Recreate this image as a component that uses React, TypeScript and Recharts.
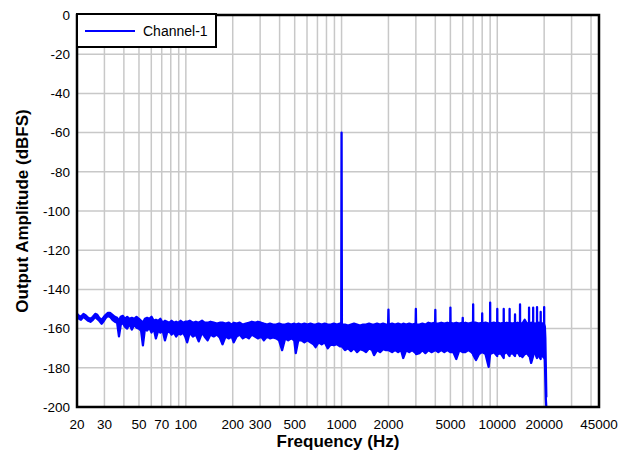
import React from 'react';
import { ComposedChart, Area, XAxis, YAxis, CartesianGrid, Legend, ReferenceArea, Label } from 'recharts';

const FONT = '"Liberation Sans", Arial, Helvetica, sans-serif';
const BLUE = '#0000ff';

// vertical grid lines (log decades) and the ones that carry a label
const gridTicks = [
  20, 30, 40, 50, 60, 70, 80, 90,
  100, 200, 300, 400, 500, 600, 700, 800, 900,
  1000, 2000, 3000, 4000, 5000, 6000, 7000, 8000, 9000,
  10000, 20000, 30000, 40000, 45000,
];
const labelTicks = [20, 30, 50, 70, 100, 200, 300, 500, 1000, 2000, 5000, 10000, 20000, 45000];
const yTicks = [-200, -180, -160, -140, -120, -100, -80, -60, -40, -20, 0];

// [frequency Hz, band low dBFS, band high dBFS]
const lowBand = [
  [20, -154, -152.5], [20.6, -155, -153.5], [21.2, -155.5, -154], [22, -154, -152.5],
  [22.8, -155, -153.3], [23.6, -156, -154.5], [24.4, -156.5, -155], [25.3, -155.5, -154],
  [26.2, -154, -152.5], [27, -155, -153], [27.8, -156, -154.5], [28.8, -157.5, -155.5],
  [29.8, -156, -154], [30.6, -154.5, -153], [31.6, -153.5, -152], [32.6, -154, -152],
  [33.8, -155.5, -153], [35, -156.5, -154], [36.2, -157, -154.5], [37.2, -164, -156],
  [38.2, -158, -154], [39.4, -157, -153.5], [40.6, -159, -155], [42, -160, -154],
  [43.4, -157.5, -155], [45, -160.5, -154.5], [46.6, -158, -155], [48.2, -159.5, -154],
  [50, -160, -155], [51.6, -161, -156], [53, -168.5, -157], [54.6, -160, -155],
  [56.4, -161, -154.5], [58.2, -159.5, -155], [60.2, -162, -154], [62.2, -160, -156],
  [64.2, -165, -155.5], [66.4, -161, -156], [68.6, -162, -155], [71, -161, -157],
  [73.4, -166, -156], [75.8, -162, -156.5], [78.4, -161.5, -157], [81, -163, -156],
  [83.8, -162, -157], [86.6, -164, -156.5], [89.6, -162.5, -157], [92.6, -163, -156],
  [95.8, -162, -157], [99, -164, -156.5], [102, -167, -156.5],
];

const midBand = [
  [106, -162, -156], [111, -164, -157], [116, -163, -156.5], [121, -166.5, -157],
  [127, -162, -156], [132, -164, -157], [138, -166, -157], [144, -163, -156.5],
  [151, -164, -157], [158, -163, -157.5], [165, -164.5, -157], [172, -168, -157],
  [180, -164, -157.5], [189, -165, -157], [197, -164, -158], [203, -167, -157],
  [212, -164, -157.5], [222, -163, -157], [232, -165, -158], [243, -164, -157.5],
  [254, -165, -157], [265, -163, -156.5], [278, -164, -157], [290, -165, -156.5],
  [304, -164, -157], [317, -166, -157.5], [332, -164, -158], [347, -165, -157.5],
  [363, -164.5, -158], [380, -165, -158], [397, -166, -157.5], [415, -171, -158],
  [434, -165, -158], [454, -166, -157.5], [475, -165, -158], [497, -166, -157.5],
  [508, -172.5, -158], [527, -166, -157.5], [552, -166, -158], [577, -167, -157.5],
  [604, -166, -158], [631, -167, -157.5], [661, -168, -158], [681, -169.5, -158],
  [712, -167, -157.5], [745, -168, -158], [779, -167, -157.5], [815, -170, -158],
  [853, -168, -158], [892, -168.5, -157.5], [933, -168, -158], [976, -169, -157.5],
  [995, -169, -158], [1000, -169, -60], [1005, -169, -158],
];

const highBand = [
  [1052, -171, -158], [1100, -170, -158.5], [1150, -171.5, -158], [1202, -170, -157.5],
  [1257, -172, -158], [1314, -170.5, -158.5], [1374, -171, -158], [1436, -172, -158],
  [1502, -170, -157.5], [1570, -171, -158], [1617, -173.5, -158], [1690, -171, -157.5],
  [1767, -172, -158], [1847, -170.5, -157.5], [1931, -171, -158],
  [1990, -171, -158], [2000, -171, -150.3], [2010, -171, -158],
  [2111, -172, -157.5], [2207, -171, -158], [2307, -172, -157.5], [2412, -171, -158],
  [2488, -175, -157.5], [2601, -171, -158], [2720, -172, -157.5], [2843, -171, -158],
  [2990, -172.5, -157.5], [3000, -172.5, -150], [3010, -173, -158],
  [3160, -172.5, -158], [3304, -171, -157.5], [3454, -172.5, -158], [3611, -171, -157],
  [3775, -172, -157.5],
  [3990, -171, -157], [4000, -171, -150.5], [4010, -171, -157.5],
  [4180, -172, -157.5], [4370, -171, -157], [4569, -172, -157.5], [4777, -171, -157],
  [4990, -172, -157.5], [5000, -172, -149.3], [5010, -172, -157],
  [5220, -172, -157.5], [5457, -175.5, -157], [5705, -171, -157.5],
  [5990, -172, -157], [6000, -172, -154.5], [6010, -172, -157.5],
  [6236, -172, -157], [6520, -171, -157.5], [6816, -172, -157],
  [6990, -173, -157.5], [7000, -173, -147.6], [7010, -173.5, -157],
  [7300, -176, -157], [7632, -173, -157.5],
  [7990, -172, -157], [8000, -172, -152.3], [8010, -172, -157.5],
  [8400, -173, -157], [8800, -179.5, -157.5],
  [8990, -173, -157], [9000, -173, -146.7], [9010, -173, -157.5],
  [9500, -172, -157],
  [9990, -174, -157.5], [10000, -174, -150], [10010, -173, -157],
  [10500, -172.5, -157.5],
  [10990, -175, -157], [11000, -175, -150], [11010, -173, -157.5],
  [11500, -172, -157],
  [11990, -174, -157.5], [12000, -174, -150], [12010, -173, -157],
  [12500, -172.5, -157.5],
  [12990, -174, -157], [13000, -174, -152.8], [13010, -173, -157.5],
  [13500, -172, -157],
  [13990, -174, -157.5], [14000, -174, -147.7], [14010, -173, -157],
  [14500, -174.5, -157.5], [15000, -173, -155.5], [15500, -172.5, -157.5],
  [15990, -174, -157], [16000, -174, -149.3], [16010, -173, -157.5],
  [16500, -177.5, -157],
  [16990, -174, -157.5], [17000, -174, -149.3], [17010, -173, -157],
  [17500, -172.5, -157.5],
  [17990, -175, -157], [18000, -175, -149], [18010, -173, -157.5],
  [18500, -174, -157],
  [18990, -175.5, -157.5], [19000, -175.5, -151.5], [19010, -173, -157],
  [19500, -174, -157.5],
  [19990, -175, -157], [20000, -175, -149], [20010, -174, -157.5],
  [20200, -176, -159], [20350, -185, -165], [20500, -196, -180], [20650, -200, -195],
];

const spectrum = [...lowBand, ...midBand, ...highBand].map(([f, lo, hi]) => ({ f, band: [lo, hi] }));

const ChannelLegend = () => (
  <div
    style={{
      width: 137,
      height: 31,
      border: '2px solid #000',
      background: '#fff',
      display: 'flex',
      alignItems: 'center',
      fontFamily: FONT,
      fontSize: 14,
      color: '#000',
    }}
  >
    <svg width={65} height={10} style={{ display: 'block' }}>
      <line x1={7} y1={5} x2={57} y2={5} stroke={BLUE} strokeWidth={2} />
    </svg>
    <span>Channel-1</span>
  </div>
);

export default function App() {
  return (
    <div style={{ position: 'absolute', left: 0, top: 0, background: '#fff' }}>
      <ComposedChart width={631} height={451} data={spectrum} margin={{ top: 15, right: 32, bottom: 0, left: 0 }}>
        <CartesianGrid stroke="#c8c8c8" strokeWidth={1.5} />
        <XAxis
          dataKey="f"
          type="number"
          scale="log"
          domain={[20, 45000]}
          allowDataOverflow
          ticks={gridTicks}
          interval={0}
          tickFormatter={(v) => (labelTicks.includes(v) ? String(v) : '')}
          tickLine={false}
          axisLine={false}
          tickSize={5}
          tickMargin={7}
          height={44}
          tick={{ fill: '#000', fontSize: 13.5, fontFamily: FONT }}
        >
          <Label
            value="Frequency (Hz)"
            position="center"
            dy={12}
            style={{ fill: '#000', fontSize: 17, fontWeight: 'bold', fontFamily: FONT }}
          />
        </XAxis>
        <YAxis
          type="number"
          domain={[-200, 0]}
          ticks={yTicks}
          interval={0}
          tickLine={false}
          axisLine={false}
          tickSize={5}
          tickMargin={2}
          width={77}
          tick={{ fill: '#000', fontSize: 13.5, fontFamily: FONT }}
        >
          <Label
            value="Output Amplitude (dBFS)"
            angle={-90}
            position="center"
            dx={-16.5}
            style={{ fill: '#000', fontSize: 17, fontWeight: 'bold', fontFamily: FONT, textAnchor: 'middle' }}
          />
        </YAxis>
        <Area
          type="linear"
          dataKey="band"
          name="Channel-1"
          stroke={BLUE}
          strokeWidth={2.3}
          strokeLinejoin="round"
          fill={BLUE}
          fillOpacity={1}
          dot={false}
          activeDot={false}
          isAnimationActive={false}
        />
        <ReferenceArea
          x1={20}
          x2={45000}
          y1={-200}
          y2={0}
          fill="none"
          fillOpacity={0}
          stroke="#000"
          strokeWidth={2.5}
          ifOverflow="visible"
        />
        <Legend
          layout="horizontal"
          verticalAlign="middle"
          align="center"
          content={<ChannelLegend />}
          wrapperStyle={{ left: 76, top: 13, width: 'auto', height: 'auto' }}
        />
      </ComposedChart>
    </div>
  );
}
